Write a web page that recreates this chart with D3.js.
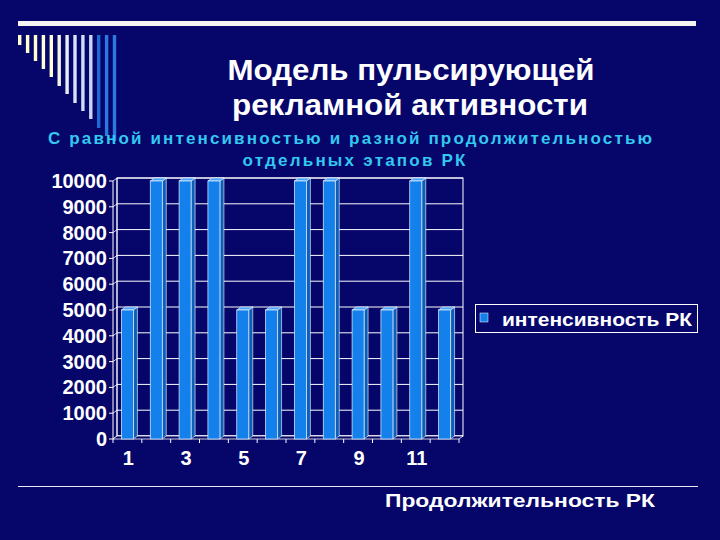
<!DOCTYPE html>
<html><head><meta charset="utf-8">
<script src="https://cdn.jsdelivr.net/npm/d3@7"></script>
<style>html,body{margin:0;padding:0;background:#05056a;}svg{display:block;}</style>
</head><body>
<script>
const categories = ["1","2","3","4","5","6","7","8","9","10","11","12"];
const values = [5000,10000,10000,10000,5000,5000,10000,10000,5000,5000,10000,5000];
const xTickLabels = ["1","3","5","7","9","11"];
const yTicks = [0,1000,2000,3000,4000,5000,6000,7000,8000,9000,10000];
const seriesName = "интенсивность РК";
const title = ["Модель пульсирующей","рекламной активности"];
const subtitle = ["С равной интенсивностью и разной продолжительностью","отдельных этапов РК"];
const xTitle = "Продолжительность РК";

const W = 720, H = 540;
const svg = d3.select("body").append("svg").attr("width", W).attr("height", H);
svg.append("rect").attr("width", W).attr("height", H).attr("fill", "#05056a");
const font = "Liberation Sans, Arial, sans-serif";

// decoration: top line
svg.append("rect").attr("x", 18).attr("y", 21).attr("width", 678).attr("height", 5).attr("fill", "#f4f4f4");
// stripes
const stripeBottoms = [45,53,61,69,77,86,94,103,111,119,128,136,141];
const stripeColors = ["#ffffcc","#ffffcc","#ffffcc","#ffffd6","#ffffd6","#f4f4e0","#e8ecf4","#d8e2f8","#d0dcf8","#c8d6f8","#1a6ad8","#2a7ae0","#2a7ae0"];
stripeBottoms.forEach((b, i) => {
  svg.append("rect").attr("x", 18 + i * 7.9).attr("y", 35).attr("width", 3.4).attr("height", b - 35).attr("fill", stripeColors[i]);
});
// bottom line
svg.append("line").attr("x1", 18).attr("x2", 698).attr("y1", 486.5).attr("y2", 486.5).attr("stroke", "#e8e8f0").attr("stroke-width", 1.2);

// titles
svg.append("text").attr("x", 411).attr("y", 80).attr("text-anchor", "middle").attr("font-family", font).attr("font-weight", "bold")
  .attr("font-size", 29).attr("fill", "#ffffff").attr("textLength", 367).attr("lengthAdjust", "spacingAndGlyphs").text(title[0]);
svg.append("text").attr("x", 410).attr("y", 115).attr("text-anchor", "middle").attr("font-family", font).attr("font-weight", "bold")
  .attr("font-size", 29).attr("fill", "#ffffff").attr("textLength", 356).attr("lengthAdjust", "spacingAndGlyphs").text(title[1]);
svg.append("text").attr("x", 350).attr("y", 144).attr("text-anchor", "middle").attr("font-family", font).attr("font-weight", "bold")
  .attr("font-size", 17).attr("fill", "#33c8f0").attr("textLength", 604).attr("lengthAdjust", "spacing").text(subtitle[0]);
svg.append("text").attr("x", 354).attr("y", 166).attr("text-anchor", "middle").attr("font-family", font).attr("font-weight", "bold")
  .attr("font-size", 17).attr("fill", "#33c8f0").attr("textLength", 223).attr("lengthAdjust", "spacing").text(subtitle[1]);

// chart geometry
const dx = 4, dy = -3;
const x = d3.scaleBand().domain(categories).range([113, 459]);
const y = d3.scaleLinear().domain([0, 10000]).range([439, 181]);
const g = svg.append("g");
const x0 = x.range()[0], x1 = x.range()[1];

// back wall
g.append("rect").attr("x", x0 + dx).attr("y", y(10000) + dy).attr("width", x1 - x0).attr("height", y(0) - y(10000))
  .attr("fill", "#05056a").attr("stroke", "#ffffff").attr("stroke-width", 1);
// gridlines on back wall and side wall
yTicks.forEach(v => {
  g.append("line").attr("x1", x0 + dx).attr("x2", x1 + dx).attr("y1", y(v) + dy).attr("y2", y(v) + dy).attr("stroke", "#ffffff").attr("stroke-width", 1);
  g.append("line").attr("x1", x0).attr("x2", x0 + dx).attr("y1", y(v)).attr("y2", y(v) + dy).attr("stroke", "#ffffff").attr("stroke-width", 0.8);
});
// floor
g.append("polygon").attr("points", [[x0, y(0)], [x1, y(0)], [x1 + dx, y(0) + dy], [x0 + dx, y(0) + dy]].map(p => p.join(",")).join(" "))
  .attr("fill", "#05056a").attr("stroke", "#ffffff").attr("stroke-width", 0.8);
// left axis
g.append("line").attr("x1", x0).attr("x2", x0).attr("y1", y(10000)).attr("y2", y(0)).attr("stroke", "#ffffff").attr("stroke-width", 1);
g.append("line").attr("x1", x0 + dx).attr("x2", x0 + dx).attr("y1", y(10000) + dy).attr("y2", y(0) + dy).attr("stroke", "#ffffff").attr("stroke-width", 0.8);
yTicks.forEach(v => {
  g.append("line").attr("x1", x0 - 4).attr("x2", x0).attr("y1", y(v)).attr("y2", y(v)).attr("stroke", "#ffffff");
  g.append("text").attr("x", 107).attr("y", y(v) + 7).attr("text-anchor", "end").attr("font-family", font).attr("font-weight", "bold")
    .attr("font-size", 20).attr("fill", "#ffffff").text(v);
});
// x ticks
categories.forEach(c => {
  const xe = x(c) + x.bandwidth();
  g.append("line").attr("x1", xe).attr("x2", xe).attr("y1", y(0)).attr("y2", y(0) + 4).attr("stroke", "#ffffff");
});
g.append("line").attr("x1", x0).attr("x2", x0).attr("y1", y(0)).attr("y2", y(0) + 4).attr("stroke", "#ffffff");
xTickLabels.forEach(lab => {
  g.append("text").attr("x", x(lab) + x.bandwidth() / 2 + 1).attr("y", 465).attr("text-anchor", "middle").attr("font-family", font)
    .attr("font-weight", "bold").attr("font-size", 20).attr("fill", "#ffffff").text(lab);
});

// bars
const bw = 12;
categories.forEach((c, i) => {
  const bx = x(c) + (x.bandwidth() - bw) / 2;
  const by = y(values[i]), b0 = y(0);
  const bg = g.append("g");
  bg.append("polygon").attr("points", [[bx + bw, by], [bx + bw + dx, by + dy], [bx + bw + dx, b0 + dy], [bx + bw, b0]].map(p => p.join(",")).join(" "))
    .attr("fill", "#0b5fb8").attr("stroke", "#ffffff").attr("stroke-width", 0.6);
  bg.append("polygon").attr("points", [[bx, by], [bx + bw, by], [bx + bw + dx, by + dy], [bx + dx, by + dy]].map(p => p.join(",")).join(" "))
    .attr("fill", "#4aa4f8").attr("stroke", "#ffffff").attr("stroke-width", 0.6);
  bg.append("rect").attr("x", bx).attr("y", by).attr("width", bw).attr("height", b0 - by)
    .attr("fill", "#1480ec").attr("stroke", "#e8f2ff").attr("stroke-width", 0.7);
});

// legend
svg.append("rect").attr("x", 475.5).attr("y", 304.5).attr("width", 222).attr("height", 28).attr("fill", "#05056a").attr("stroke", "#ffffff").attr("stroke-width", 1);
svg.append("rect").attr("x", 480).attr("y", 313).attr("width", 8).attr("height", 9).attr("fill", "#1480ec").attr("stroke", "#ffffff").attr("stroke-width", 0.5);
svg.append("text").attr("x", 502).attr("y", 326).attr("font-family", font).attr("font-weight", "bold").attr("font-size", 18)
  .attr("fill", "#ffffff").attr("textLength", 190).attr("lengthAdjust", "spacingAndGlyphs").text(seriesName);

// x title
svg.append("text").attr("x", 385).attr("y", 507).attr("font-family", font).attr("font-weight", "bold").attr("font-size", 18)
  .attr("fill", "#ffffff").attr("textLength", 270).attr("lengthAdjust", "spacingAndGlyphs").text(xTitle);
</script>
</body></html>
